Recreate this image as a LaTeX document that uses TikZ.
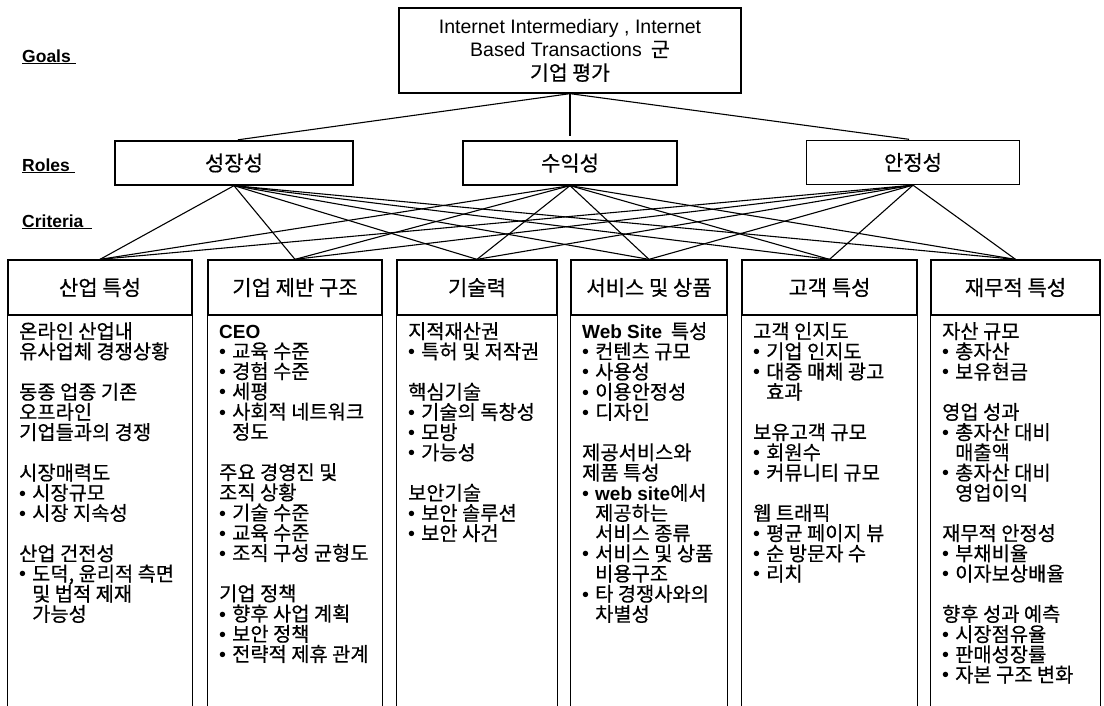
\documentclass[tikz,border=0pt]{standalone}
\usepackage{fontspec}
\setmainfont{Noto Sans CJK KR}[FakeBold=0.5]
\newfontfamily\lat{Liberation Sans}
\newcommand\bul{\makebox[13pt][l]{\lat •}}
\newcommand\ind{\hspace*{13pt}}
\newcommand\fst{\rule{0pt}{16pt}}
\begin{document}
\begin{tikzpicture}[x=1pt,y=-1pt,
  box/.style={draw, line width=1.3pt, inner sep=0pt, align=center},
  goalbox/.style={box, minimum width=342pt, minimum height=85pt, font=\fontsize{20.5}{23.5}\selectfont},
  rolebox/.style={box, minimum height=44pt, font=\fontsize{21}{22}\selectfont},
  hdr/.style={box, minimum height=55pt, font=\fontsize{21}{22}\selectfont},
  side/.style={line width=1.3pt},
  body/.style={anchor=north west, inner sep=0pt, align=left, font=\fontsize{19.8}{20.2}\selectfont},
  link/.style={line width=1.1pt},
  lvl/.style={anchor=base west, inner sep=0pt, font=\lat\bfseries\fontsize{17.5}{18}\selectfont}]
\useasboundingbox (0,0) rectangle (1104,705);

% level labels
\node[lvl] (lg) at (22,62) {\underline{Goals\hspace*{5pt}}};
\node[lvl] (lr) at (22,171) {\underline{Roles\hspace*{5pt}}};
\node[lvl] (lc) at (22,227) {\underline{Criteria\hspace*{9pt}}};

% goal
\node[goalbox] (goal) at (570,50.5) {{\lat\fontsize{19.5}{23.5}\selectfont Internet Intermediary , Internet}\\{\lat\fontsize{19.5}{23.5}\selectfont Based Transactions}\ \ 군\\기업 평가};

% roles
\node[rolebox, minimum width=238pt] (r1) at (234,163) {성장성};
\node[rolebox, minimum width=214pt] (r2) at (570,163) {수익성};
\node[rolebox, minimum width=213pt] (r3) at (913,162.5) {안정성};

% criteria headers
\node[hdr, minimum width=184pt] (c1) at (100,287.5) {산업 특성};
\node[hdr, minimum width=174pt] (c2) at (295,287.5) {기업 제반 구조};
\node[hdr, minimum width=160pt] (c3) at (477,287.5) {기술력};
\node[hdr, minimum width=156pt] (c4) at (649,287.5) {서비스 및 상품};
\node[hdr, minimum width=175pt] (c5) at (829.5,287.5) {고객 특성};
\node[hdr, minimum width=169pt] (c6) at (1015.5,287.5) {재무적 특성};

\foreach \c in {c1,c2,c3,c4,c5,c6}{
  \draw[side] (\c.south west) -- ++(0,400);
  \draw[side] (\c.south east) -- ++(0,400);
}

% connectors
\foreach \r in {r1,r2,r3}{
  \draw[link, shorten >=4pt] (goal.south) -- (\r.north);
  \foreach \c in {c1,c2,c3,c4,c5,c6}
    \draw[link] (\r.south) -- (\c.north);
}

% bodies
\node[body] (t1) at (19,322) {\fst 온라인 산업내\\
유사업체 경쟁상황\\[20.2pt]
동종 업종 기존\\
오프라인\\
기업들과의 경쟁\\[20.2pt]
시장매력도\\
\bul 시장규모\\
\bul 시장 지속성\\[20.2pt]
산업 건전성\\
\bul 도덕, 윤리적 측면\\
\ind 및 법적 제재\\
\ind 가능성};

\node[body] (t2) at (219,322) {\fst{\lat\bfseries\fontsize{19}{20.2}\selectfont CEO}\\
\bul 교육 수준\\
\bul 경험 수준\\
\bul 세평\\
\bul 사회적 네트워크\\
\ind 정도\\[20.2pt]
주요 경영진 및\\
조직 상황\\
\bul 기술 수준\\
\bul 교육 수준\\
\bul 조직 구성 균형도\\[20.2pt]
기업 정책\\
\bul 향후 사업 계획\\
\bul 보안 정책\\
\bul 전략적 제휴 관계};

\node[body] (t3) at (408,322) {\fst 지적재산권\\
\bul 특허 및 저작권\\[20.2pt]
핵심기술\\
\bul 기술의 독창성\\
\bul 모방\\
\bul 가능성\\[20.2pt]
보안기술\\
\bul 보안 솔루션\\
\bul 보안 사건};

\node[body] (t4) at (582,322) {\fst{\lat\bfseries\fontsize{19}{20.2}\selectfont Web Site}\ \ 특성\\
\bul 컨텐츠 규모\\
\bul 사용성\\
\bul 이용안정성\\
\bul 디자인\\[20.2pt]
제공서비스와\\
제품 특성\\
\bul {\lat\bfseries\fontsize{19}{20.2}\selectfont web site}에서\\
\ind 제공하는\\
\ind 서비스 종류\\
\bul 서비스 및 상품\\
\ind 비용구조\\
\bul 타 경쟁사와의\\
\ind 차별성};

\node[body] (t5) at (753,322) {\fst 고객 인지도\\
\bul 기업 인지도\\
\bul 대중 매체 광고\\
\ind 효과\\[20.2pt]
보유고객 규모\\
\bul 회원수\\
\bul 커뮤니티 규모\\[20.2pt]
웹 트래픽\\
\bul 평균 페이지 뷰\\
\bul 순 방문자 수\\
\bul 리치};

\node[body] (t6) at (942,322) {\fst 자산 규모\\
\bul 총자산\\
\bul 보유현금\\[20.2pt]
영업 성과\\
\bul 총자산 대비\\
\ind 매출액\\
\bul 총자산 대비\\
\ind 영업이익\\[20.2pt]
재무적 안정성\\
\bul 부채비율\\
\bul 이자보상배율\\[20.2pt]
향후 성과 예측\\
\bul 시장점유율\\
\bul 판매성장률\\
\bul 자본 구조 변화};
\end{tikzpicture}
\end{document}
